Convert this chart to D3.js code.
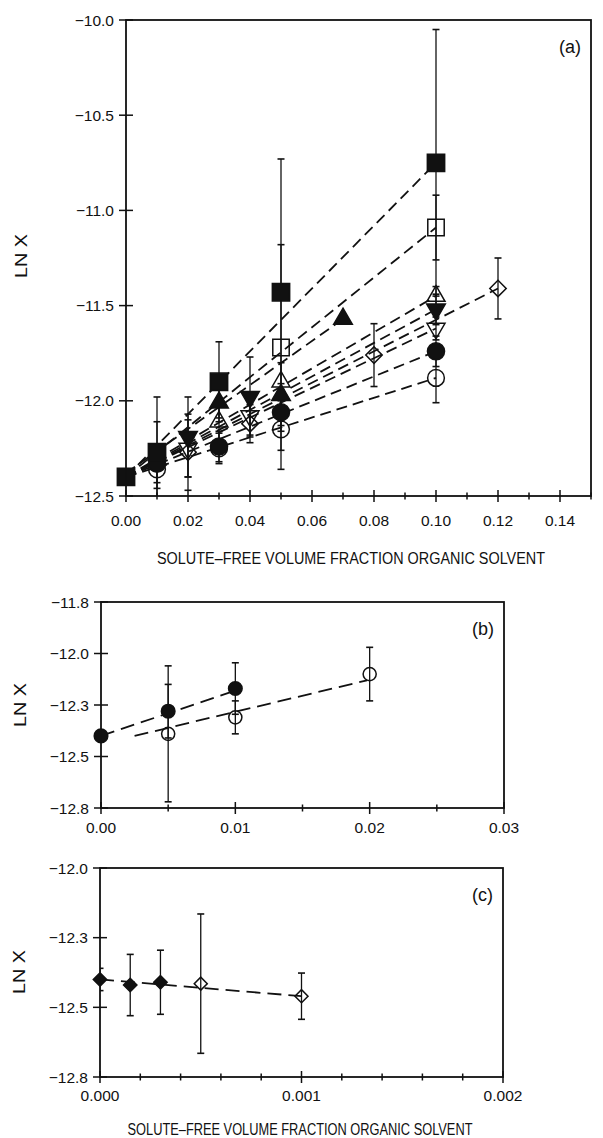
<!DOCTYPE html>
<html><head><meta charset="utf-8">
<script src="https://cdn.jsdelivr.net/npm/d3@7"></script>
<style>
body{margin:0;background:#fff}
svg{display:block}
text{font-family:"Liberation Sans",Arial,sans-serif;fill:#111}
</style>
</head><body>
<svg id="chart" width="603" height="1138"></svg>
<script>
// ---------------- Panel (a) ----------------
const aXTicks = [0,0.01,0.02,0.03,0.04,0.05,0.06,0.07,0.08,0.09,0.10,0.11,0.12,0.13,0.14,0.15];
const aXTickLabels = ["0.00","0.02","0.04","0.06","0.08","0.10","0.12","0.14"];
const aXLabelValues = [0,0.02,0.04,0.06,0.08,0.10,0.12,0.14];
const aYTicks = [-10.0,-10.5,-11.0,-11.5,-12.0,-12.5];
const aYTickLabels = ["−10.0","−10.5","−11.0","−11.5","−12.0","−12.5"];

const aFilledSquareX = [0, 0.01, 0.03, 0.05, 0.10];
const aFilledSquareY = [-12.40, -12.27, -11.90, -11.43, -10.75];
const aFilledSquareE = [0.03, 0.29, 0.21, 0.70, 0.70];

const aOpenSquareX = [0.05, 0.10];
const aOpenSquareY = [-11.72, -11.09];
const aOpenSquareE = [0.54, 0.17];

const aFilledTriUpX = [0.03, 0.05, 0.07];
const aFilledTriUpY = [-12.01, -11.97, -11.57];
const aFilledTriUpE = [0.08, 0.06, 0];

const aOpenTriUpX = [0.01, 0.03, 0.05, 0.10];
const aOpenTriUpY = [-12.31, -12.11, -11.90, -11.45];
const aOpenTriUpE = [0.20, 0.10, 0.10, 0.05];

const aFilledTriDnX = [0.02, 0.04, 0.10];
const aFilledTriDnY = [-12.19, -11.98, -11.52];
const aFilledTriDnE = [0.21, 0.21, 0.08];

const aOpenTriDnX = [0.02, 0.04, 0.10];
const aOpenTriDnY = [-12.25, -12.08, -11.62];
const aOpenTriDnE = [0.15, 0.10, 0.06];

const aOpenDiamondX = [0.02, 0.04, 0.08, 0.12];
const aOpenDiamondY = [-12.27, -12.12, -11.76, -11.41];
const aOpenDiamondE = [0.20, 0.10, 0.165, 0.16];

const aFilledCircleX = [0.01, 0.03, 0.05, 0.10];
const aFilledCircleY = [-12.33, -12.24, -12.06, -11.74];
const aFilledCircleE = [0.10, 0.08, 0.10, 0.08];

const aOpenCircleX = [0.01, 0.03, 0.05, 0.10];
const aOpenCircleY = [-12.36, -12.25, -12.15, -11.88];
const aOpenCircleE = [0.10, 0.08, 0.21, 0.13];

// dashed fit lines: [x start, x end], [y start, y end]
const aLineX = [[0,0.10],[0,0.10],[0,0.07],[0,0.10],[0,0.10],[0,0.10],[0,0.12],[0,0.10],[0,0.10]];
const aLineY = [[-12.40,-10.75],[-12.40,-11.09],[-12.38,-11.57],[-12.40,-11.45],[-12.40,-11.52],[-12.40,-11.62],[-12.40,-11.41],[-12.40,-11.74],[-12.40,-11.88]];

// ---------------- Panel (b) ----------------
const bXTicks = [0,0.005,0.01,0.015,0.02,0.025,0.03];
const bXLabelValues = [0,0.01,0.02,0.03];
const bXTickLabels = ["0.00","0.01","0.02","0.03"];
const bYTicks = [-11.75,-12.0,-12.25,-12.5,-12.75];
const bYTickLabels = ["−11.8","−12.0","−12.3","−12.5","−12.8"];

const bFilledCircleX = [0, 0.005, 0.01];
const bFilledCircleY = [-12.40, -12.28, -12.17];
const bFilledCircleE = [0.02, 0.13, 0.125];
const bOpenCircleX = [0.005, 0.01, 0.02];
const bOpenCircleY = [-12.39, -12.31, -12.10];
const bOpenCircleE = [0.33, 0.08, 0.13];
const bLineX = [[0,0.01],[0.0025,0.0198]];
const bLineY = [[-12.40,-12.18],[-12.40,-12.13]];

// ---------------- Panel (c) ----------------
const cXTicks = [0,0.0002,0.0004,0.0006,0.0008,0.001,0.0012,0.0014,0.0016,0.0018,0.002];
const cXLabelValues = [0,0.001,0.002];
const cXTickLabels = ["0.000","0.001","0.002"];
const cYTicks = [-12.0,-12.25,-12.5,-12.75];
const cYTickLabels = ["−12.0","−12.3","−12.5","−12.8"];

const cFilledDiamondX = [0, 0.00015, 0.0003];
const cFilledDiamondY = [-12.40, -12.42, -12.41];
const cFilledDiamondE = [0.04, 0.11, 0.115];
const cOpenDiamondX = [0.0005, 0.001];
const cOpenDiamondY = [-12.415, -12.46];
const cOpenDiamondE = [0.25, 0.083];
const cLineX = [[0,0.001]];
const cLineY = [[-12.40,-12.46]];

const xTitle = "SOLUTE–FREE VOLUME FRACTION ORGANIC SOLVENT";
const yTitle = "LN X";

// ---------------- drawing ----------------
const svg = d3.select("#chart");
const INK = "#111";

function mk(xs, ys, es, shape, filled, size, rot) {
  return xs.map((x,i)=>({x, y: ys[i], e: es[i], shape, filled, size, rot: rot||0}));
}

function panel(cfg) {
  const g = svg.append("g");
  const x = d3.scaleLinear().domain(cfg.xDomain).range([cfg.left, cfg.right]);
  const y = d3.scaleLinear().domain(cfg.yDomain).range([cfg.bottom, cfg.top]);

  const cid = "clip" + cfg.name;
  svg.append("clipPath").attr("id", cid).append("rect")
    .attr("x", cfg.left).attr("y", cfg.top)
    .attr("width", cfg.right - cfg.left).attr("height", cfg.bottom - cfg.top);
  const plot = g.append("g").attr("clip-path", `url(#${cid})`);

  cfg.lineX.forEach((lx, i) => {
    const ly = cfg.lineY[i];
    plot.append("line")
      .attr("x1", x(lx[0])).attr("y1", y(ly[0]))
      .attr("x2", x(lx[1])).attr("y2", y(ly[1]))
      .attr("stroke", INK).attr("stroke-width", 1.8)
      .attr("stroke-dasharray", cfg.dash);
  });

  const pts = cfg.series.flat();
  pts.filter(d => d.e > 0).forEach(d => {
    const cx = x(d.x);
    plot.append("line").attr("x1", cx).attr("x2", cx)
      .attr("y1", y(d.y + d.e)).attr("y2", y(d.y - d.e))
      .attr("stroke", INK).attr("stroke-width", 1.3);
    [d.y + d.e, d.y - d.e].forEach(v => {
      plot.append("line").attr("x1", cx - 3.5).attr("x2", cx + 3.5)
        .attr("y1", y(v)).attr("y2", y(v))
        .attr("stroke", INK).attr("stroke-width", 1.6);
    });
  });

  pts.forEach(d => {
    g.append("path")
      .attr("d", d3.symbol().type(d.shape).size(d.size)())
      .attr("transform", `translate(${x(d.x)},${y(d.y)}) rotate(${d.rot})`)
      .attr("fill", d.filled ? INK : "none")
      .attr("stroke", INK).attr("stroke-width", 1.5);
  });

  g.append("rect").attr("x", cfg.left).attr("y", cfg.top)
    .attr("width", cfg.right - cfg.left).attr("height", cfg.bottom - cfg.top)
    .attr("fill", "none").attr("stroke", INK).attr("stroke-width", 1.8);

  cfg.xTicks.forEach(t => {
    const major = cfg.xLabelValues.some(v => Math.abs(v - t) < 1e-9);
    const h = major ? 6 : 3.5;
    g.append("line").attr("x1", x(t)).attr("x2", x(t))
      .attr("y1", cfg.bottom - h).attr("y2", cfg.bottom + h)
      .attr("stroke", INK).attr("stroke-width", 1.5);
  });
  cfg.xLabelValues.forEach((v, i) => {
    g.append("text").attr("x", x(v)).attr("y", cfg.xLabelY)
      .attr("text-anchor", "middle").attr("font-size", 15.5)
      .text(cfg.xTickLabels[i]);
  });

  cfg.yTicks.forEach((t, i) => {
    g.append("line").attr("x1", cfg.left - 7).attr("x2", cfg.left + 7)
      .attr("y1", y(t)).attr("y2", y(t))
      .attr("stroke", INK).attr("stroke-width", 1.5);
    g.append("text").attr("x", cfg.left - 12).attr("y", y(t) + 5.5)
      .attr("text-anchor", "end").attr("font-size", 15.5)
      .text(cfg.yTickLabels[i]);
  });

  g.append("text").attr("x", cfg.right - 10).attr("y", cfg.top + 33)
    .attr("text-anchor", "end").attr("font-size", 18).text(cfg.letter);

  g.append("text")
    .attr("transform", `translate(${cfg.yTitleX},${cfg.yTitleY}) rotate(-90)`)
    .attr("text-anchor", "middle").attr("font-size", 16)
    .attr("textLength", 44).attr("lengthAdjust", "spacingAndGlyphs")
    .text(yTitle);

  if (cfg.xTitleY) {
    g.append("text").attr("x", cfg.xTitleX).attr("y", cfg.xTitleY)
      .attr("text-anchor", "middle").attr("font-size", 16)
      .attr("textLength", cfg.xTitleLen).attr("lengthAdjust", "spacingAndGlyphs")
      .text(xTitle);
  }
}

const S = d3.symbolSquare, T = d3.symbolTriangle, C = d3.symbolCircle;

panel({
  name: "a", left: 126, right: 591, top: 20, bottom: 496,
  xDomain: [0, 0.15], yDomain: [-12.5, -10.0],
  xTicks: aXTicks, xLabelValues: aXLabelValues, xTickLabels: aXTickLabels, xLabelY: 526,
  yTicks: aYTicks, yTickLabels: aYTickLabels,
  dash: "11,6",
  lineX: aLineX, lineY: aLineY,
  series: [
    mk(aOpenDiamondX, aOpenDiamondY, aOpenDiamondE, S, false, 135, 45),
    mk(aOpenTriDnX, aOpenTriDnY, aOpenTriDnE, T, false, 140, 180),
    mk(aFilledTriDnX, aFilledTriDnY, aFilledTriDnE, T, true, 150, 180),
    mk(aOpenTriUpX, aOpenTriUpY, aOpenTriUpE, T, false, 140, 0),
    mk(aFilledTriUpX, aFilledTriUpY, aFilledTriUpE, T, true, 150, 0),
    mk(aOpenCircleX, aOpenCircleY, aOpenCircleE, C, false, 220, 0),
    mk(aFilledCircleX, aFilledCircleY, aFilledCircleE, C, true, 230, 0),
    mk(aOpenSquareX, aOpenSquareY, aOpenSquareE, S, false, 270, 0),
    mk(aFilledSquareX, aFilledSquareY, aFilledSquareE, S, true, 300, 0)
  ],
  letter: "(a)",
  yTitleX: 27, yTitleY: 256,
  xTitleX: 351, xTitleY: 564, xTitleLen: 388
});

panel({
  name: "b", left: 101, right: 504, top: 602, bottom: 808,
  xDomain: [0, 0.03], yDomain: [-12.75, -11.75],
  xTicks: bXTicks, xLabelValues: bXLabelValues, xTickLabels: bXTickLabels, xLabelY: 833,
  yTicks: bYTicks, yTickLabels: bYTickLabels,
  dash: "14,7",
  lineX: bLineX, lineY: bLineY,
  series: [
    mk(bOpenCircleX, bOpenCircleY, bOpenCircleE, C, false, 135, 0),
    mk(bFilledCircleX, bFilledCircleY, bFilledCircleE, C, true, 145, 0)
  ],
  letter: "(b)",
  yTitleX: 26, yTitleY: 705
});

panel({
  name: "c", left: 100, right: 503, top: 868, bottom: 1077,
  xDomain: [0, 0.002], yDomain: [-12.75, -12.0],
  xTicks: cXTicks, xLabelValues: cXLabelValues, xTickLabels: cXTickLabels, xLabelY: 1101,
  yTicks: cYTicks, yTickLabels: cYTickLabels,
  dash: "14,7",
  lineX: cLineX, lineY: cLineY,
  series: [
    mk(cOpenDiamondX, cOpenDiamondY, cOpenDiamondE, S, false, 85, 45),
    mk(cFilledDiamondX, cFilledDiamondY, cFilledDiamondE, S, true, 90, 45)
  ],
  letter: "(c)",
  yTitleX: 25, yTitleY: 972,
  xTitleX: 300, xTitleY: 1135, xTitleLen: 345
});
</script>
</body></html>
